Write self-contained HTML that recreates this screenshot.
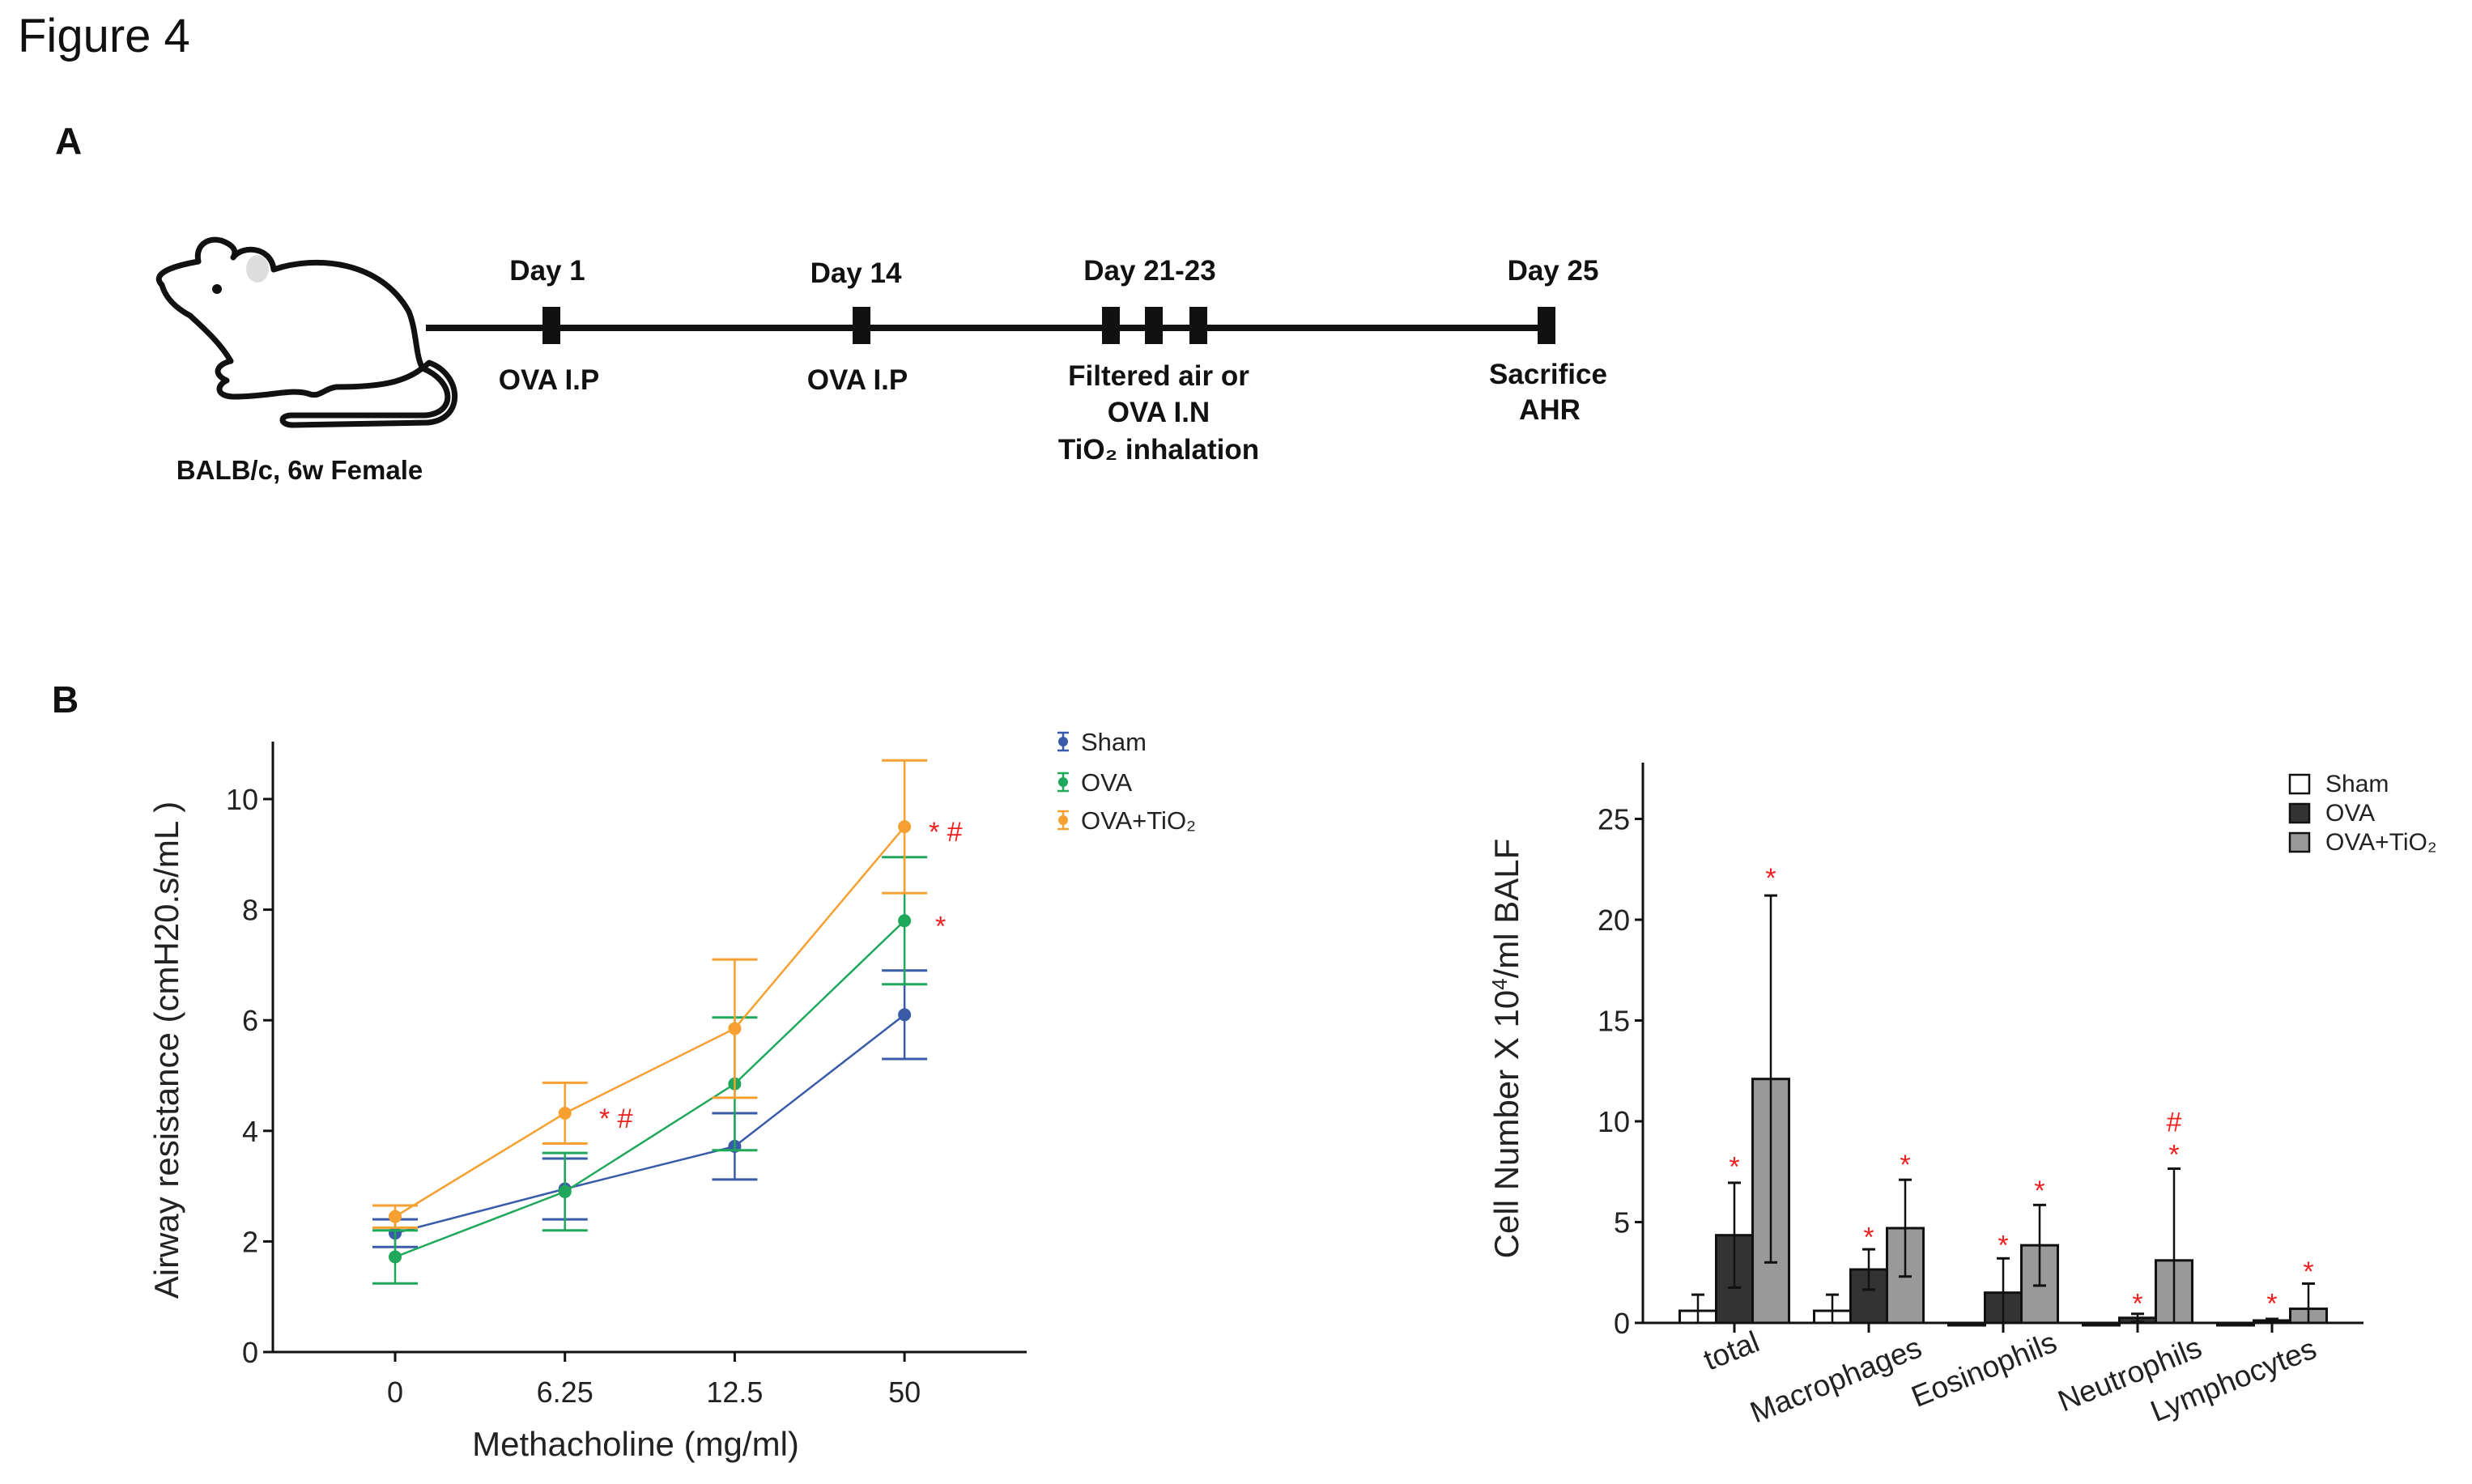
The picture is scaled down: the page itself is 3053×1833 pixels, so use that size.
<!DOCTYPE html>
<html><head><meta charset="utf-8"><style>
html,body{margin:0;padding:0;background:#fff}
svg{display:block;font-family:"Liberation Sans",Arial,sans-serif}
</style></head><body>
<svg id="fig" width="3053" height="1833" viewBox="0 0 3053 1833" xmlns="http://www.w3.org/2000/svg">
<text x="22" y="64" font-size="58" fill="#111">Figure 4</text>
<text x="68" y="190" font-size="46" font-weight="bold" fill="#111">A</text>
<text x="64" y="880" font-size="46" font-weight="bold" fill="#111">B</text>

<g>
<path d="M200,352 C188,340 205,330 245,323 C240,300 262,290 280,300 C290,305 292,312 288,318 C300,302 335,305 338,333 C390,315 470,322 505,385 C515,410 513,440 522,455 C560,470 565,510 525,513 L360,513 C345,513 345,525 362,525 L528,522 C575,518 570,462 530,448 C505,470 480,478 415,478 C400,480 395,492 380,486 C360,480 330,490 290,490 C265,490 268,475 280,470 C262,462 268,450 285,446 C270,420 245,400 235,390 C220,382 205,370 200,352 Z" fill="#fff" stroke="#111" stroke-width="7" stroke-linejoin="round"/>
<ellipse cx="318" cy="332" rx="14" ry="17" fill="#ddd"/>
<circle cx="268" cy="357" r="6" fill="#111"/>
</g>
<text x="370" y="592" font-size="33" font-weight="bold" text-anchor="middle" fill="#111">BALB/c, 6w Female</text>

<g>
<rect x="526" y="401" width="1385" height="8" fill="#111"/>
<rect x="670" y="379" width="22" height="46" fill="#111"/>
<rect x="1053" y="379" width="22" height="46" fill="#111"/>
<rect x="1361" y="379" width="22" height="46" fill="#111"/>
<rect x="1414" y="379" width="22" height="46" fill="#111"/>
<rect x="1469" y="379" width="22" height="46" fill="#111"/>
<rect x="1899" y="379" width="22" height="46" fill="#111"/>
<g font-size="35" font-weight="bold" text-anchor="middle" fill="#111">
<text x="676" y="346">Day 1</text>
<text x="1057" y="349">Day 14</text>
<text x="1420" y="346">Day 21-23</text>
<text x="1918" y="346">Day 25</text>
<text x="678" y="481">OVA I.P</text>
<text x="1059" y="481">OVA I.P</text>
<text x="1431" y="476">Filtered air or</text>
<text x="1431" y="521">OVA I.N</text>
<text x="1431" y="567">TiO₂ inhalation</text>
<text x="1912" y="474">Sacrifice</text>
<text x="1914" y="518">AHR</text>
</g>
</g>

<g id="lineChart"></g>
<g id="barChart"></g>
</svg>
<script>
// ---- Line chart data ----
const doses = ["0","6.25","12.5","50"];
const shamMean = [2.15, 2.95, 3.72, 6.1];
const shamErr = [0.25, 0.55, 0.6, 0.8];
const ovaMean = [1.72, 2.9, 4.85, 7.8];
const ovaErr = [0.48, 0.7, 1.2, 1.15];
const tioMean = [2.45, 4.32, 5.85, 9.5];
const tioErr = [0.2, 0.55, 1.25, 1.2];
const lineTicks = [0, 2, 4, 6, 8, 10];
const seriesNames = ["Sham", "OVA", "OVA+TiO₂"];

// ---- Bar chart data ----
const cellTypes = ["total","Macrophages","Eosinophils","Neutrophils","Lymphocytes"];
const barSham = [0.6, 0.6, 0, 0, 0];
const barShamErr = [0.8, 0.8, 0, 0, 0];
const barOva = [4.35, 2.65, 1.5, 0.25, 0.1];
const barOvaErr = [2.6, 1.0, 1.7, 0.2, 0.1];
const barTio = [12.1, 4.7, 3.85, 3.1, 0.7];
const barTioErr = [9.1, 2.4, 2.0, 4.55, 1.25];
const barTicks = [0, 5, 10, 15, 20, 25];

const NS = "http://www.w3.org/2000/svg";
function mk(parent, tag, attrs, text) {
  const e = document.createElementNS(NS, tag);
  for (const k in attrs) e.setAttribute(k, attrs[k]);
  if (text !== undefined) e.textContent = text;
  parent.appendChild(e);
  return e;
}

// ===== Line chart =====
(function () {
  const g = document.getElementById("lineChart");
  const x0 = 337, xEnd = 1268, yBase = 1670, yTop = 916;
  const yS = v => yBase - v * 68.3;
  const xS = i => 488 + i * 209.7;
  let e;
  e = mk(g, "line", {x1: x0, y1: yTop, x2: x0, y2: yBase, stroke: "#111", "stroke-width": 3});
  
  
  e = mk(g, "line", {x1: x0, y1: yBase, x2: xEnd, y2: yBase, stroke: "#111", "stroke-width": 3});
  
  
  lineTicks.forEach(t => {
    mk(g, "line", {x1: x0 - 12, y1: yS(t), x2: x0, y2: yS(t), stroke: "#111", "stroke-width": 3});
    e = mk(g, "text", {x: x0 - 18, y: yS(t) + 13, "font-size": 36, "text-anchor": "end", fill: "#222"}, String(t));
    
    
  });
  doses.forEach((d, i) => {
    mk(g, "line", {x1: xS(i), y1: yBase, x2: xS(i), y2: yBase + 12, stroke: "#111", "stroke-width": 3});
    e = mk(g, "text", {x: xS(i), y: yBase + 62, "font-size": 36, "text-anchor": "middle", fill: "#222"}, d);
    
    
  });
  e = mk(g, "text", {x: 785, y: 1798, "font-size": 42, "text-anchor": "middle", fill: "#222"}, "Methacholine  (mg/ml)");
  
  
  e = mk(g, "text", {x: 0, y: 0, "font-size": 42, "text-anchor": "middle", fill: "#222", transform: "translate(220,1297) rotate(-90)"}, "Airway resistance  (cmH20.s/mL  )");
  
  

  const series = [
    [shamMean, shamErr, "#3a5ba8", "sham"],
    [ovaMean, ovaErr, "#1fa85c", "ova"],
    [tioMean, tioErr, "#f5a030", "ova-tio2"]
  ];
  series.forEach(([m, er, c, nm]) => {
    e = mk(g, "polyline", {points: m.map((v, i) => xS(i) + "," + yS(v)).join(" "), fill: "none", stroke: c, "stroke-width": 2.5});
    
    
    m.forEach((v, i) => {
      const x = xS(i);
      mk(g, "line", {x1: x, y1: yS(v - er[i]), x2: x, y2: yS(v + er[i]), stroke: c, "stroke-width": 2.5});
      mk(g, "line", {x1: x - 28, y1: yS(v - er[i]), x2: x + 28, y2: yS(v - er[i]), stroke: c, "stroke-width": 3});
      mk(g, "line", {x1: x - 28, y1: yS(v + er[i]), x2: x + 28, y2: yS(v + er[i]), stroke: c, "stroke-width": 3});
      e = mk(g, "circle", {cx: x, cy: yS(v), r: 8, fill: c});
      
      
    });
  });
  const ann = [[1, tioMean[1], "* #", 740], [3, tioMean[3], "* #", 1147], [3, ovaMean[3], "*", 1155]];
  ann.forEach(([i, v, s, x]) => {
    e = mk(g, "text", {x: x, y: yS(v) + 18, "font-size": 34, fill: "#f02020"}, s);
    
    
  });
  const lc = ["#3a5ba8", "#1fa85c", "#f5a030"];
  const ly = [916, 966, 1013];
  seriesNames.forEach((n, k) => {
    const lg = mk(g, "g", {});
    
    
    mk(lg, "line", {x1: 1313, y1: ly[k] - 11, x2: 1313, y2: ly[k] + 11, stroke: lc[k], "stroke-width": 2.5});
    mk(lg, "line", {x1: 1306, y1: ly[k] - 11, x2: 1320, y2: ly[k] - 11, stroke: lc[k], "stroke-width": 2.5});
    mk(lg, "line", {x1: 1306, y1: ly[k] + 11, x2: 1320, y2: ly[k] + 11, stroke: lc[k], "stroke-width": 2.5});
    mk(lg, "circle", {cx: 1313, cy: ly[k], r: 6, fill: lc[k]});
    mk(lg, "text", {x: 1335, y: ly[k] + 11, "font-size": 31, fill: "#222"}, n);
  });
})();

// ===== Bar chart =====
(function () {
  const g = document.getElementById("barChart");
  const x0 = 2029, xEnd = 2919, yBase = 1634, yTop = 942;
  const yS = v => yBase - v * 24.9;
  const cx = i => 2142 + i * 166;
  const bw = 45;
  let e;
  const groups = [[barSham, barShamErr, "#ffffff", -1, "sham"], [barOva, barOvaErr, "#333333", 0, "ova"], [barTio, barTioErr, "#999999", 1, "ova-tio2"]];
  groups.forEach(([vals, errs, fill, off, nm]) => {
    vals.forEach((v, i) => {
      const x = cx(i) + off * bw - bw / 2;
      const h = Math.max(v * 24.9, 3);
      e = mk(g, "rect", {x: x, y: yBase - h + (v === 0 ? 3 : 0), width: bw, height: h, fill: fill, stroke: "#111", "stroke-width": 3});
      
      
      if (errs[i] > 0) {
        const xc = x + bw / 2;
        mk(g, "line", {x1: xc, y1: yS(Math.max(v - errs[i], 0)), x2: xc, y2: yS(v + errs[i]), stroke: "#111", "stroke-width": 2.5});
        mk(g, "line", {x1: xc - 8, y1: yS(v + errs[i]), x2: xc + 8, y2: yS(v + errs[i]), stroke: "#111", "stroke-width": 3});
        if (v - errs[i] > 0) mk(g, "line", {x1: xc - 8, y1: yS(v - errs[i]), x2: xc + 8, y2: yS(v - errs[i]), stroke: "#111", "stroke-width": 3});
      }
    });
  });
  e = mk(g, "line", {x1: x0, y1: yTop, x2: x0, y2: yBase, stroke: "#111", "stroke-width": 3});
  
  
  e = mk(g, "line", {x1: x0, y1: yBase, x2: xEnd, y2: yBase, stroke: "#111", "stroke-width": 3});
  
  
  barTicks.forEach(t => {
    mk(g, "line", {x1: x0 - 10, y1: yS(t), x2: x0, y2: yS(t), stroke: "#111", "stroke-width": 3});
    e = mk(g, "text", {x: x0 - 16, y: yS(t) + 13, "font-size": 36, "text-anchor": "end", fill: "#222"}, String(t));
    
    
  });
  const lblPos = [[2143, 1680], [2272, 1716], [2455, 1703], [2635, 1709], [2763, 1716]];
  cellTypes.forEach((c, i) => {
    mk(g, "line", {x1: cx(i), y1: yBase, x2: cx(i), y2: yBase + 12, stroke: "#111", "stroke-width": 3});
    e = mk(g, "text", {x: 0, y: 0, "font-size": 37, "text-anchor": "middle", fill: "#222", transform: "translate(" + lblPos[i][0] + "," + lblPos[i][1] + ") rotate(-22)"}, c);
    
    
  });
  e = mk(g, "text", {x: 0, y: 0, "font-size": 42, "text-anchor": "middle", fill: "#222", transform: "translate(1875,1295) rotate(-90)"});
  e.innerHTML = 'Cell Number X 10<tspan font-size="26" dy="-14">4</tspan><tspan dy="14">/ml BALF</tspan>';
  
  
  const stars = [[0, 0, 8.1, "*"], [0, 1, 22.4, "*"], [1, 0, 4.6, "*"], [1, 1, 8.2, "*"], [2, 0, 4.2, "*"], [2, 1, 6.9, "*"], [3, 0, 1.3, "*"], [3, 1, 8.7, "*"], [3, 1, 10.3, "#"], [4, 0, 1.3, "*"], [4, 1, 2.9, "*"]];
  stars.forEach(([i, off, v, s]) => {
    e = mk(g, "text", {x: cx(i) + off * bw, y: yS(v) + 20, "font-size": 34, "text-anchor": "middle", fill: "#f02020"}, s);
    
    
  });
  const lfill = ["#ffffff", "#333333", "#999999"];
  const ly = [957, 993, 1029];
  seriesNames.forEach((n, k) => {
    const lg = mk(g, "g", {});
    
    
    mk(lg, "rect", {x: 2828, y: ly[k], width: 24, height: 23, fill: lfill[k], stroke: "#111", "stroke-width": 2.5});
    mk(lg, "text", {x: 2872, y: ly[k] + 21, "font-size": 30, fill: "#222"}, n);
  });
})();
</script>
</body></html>
